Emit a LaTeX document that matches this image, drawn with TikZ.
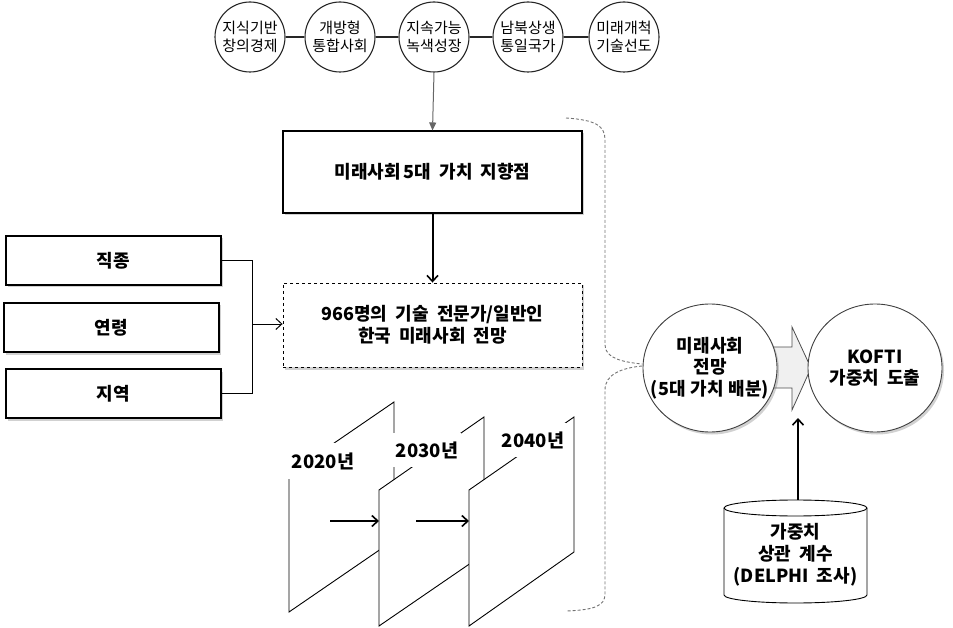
\documentclass[tikz,border=0pt]{standalone}
\usepackage{fontspec}
\setmainfont{Noto Sans CJK KR}[WordSpace=2]
\usetikzlibrary{arrows.meta,shadows,calc,shapes.geometric}
\begin{document}
\begin{tikzpicture}[x=1pt,y=-1pt,
  val/.style={circle,draw=black!85,line width=1.1pt,fill=white,minimum size=70pt,inner sep=0pt,align=center,
    font=\fontsize{15}{18}\selectfont},
  shad/.style={drop shadow={shadow xshift=2pt,shadow yshift=-2.5pt,opacity=0.3,fill=black!60}},
  bx/.style={draw=black,fill=white,line width=1.1pt,shad,align=center,inner sep=0pt,
    font=\bfseries\fontsize{18}{22}\selectfont},
  oval/.style={ellipse,draw=black!75,fill=white,line width=0.9pt,shad,inner sep=0pt,
    minimum width=134pt,minimum height=128pt},
  ovaltext/.style={align=center,inner sep=0pt,font=\bfseries\fontsize{18}{21.5}\selectfont},
  yr/.style={fill=white,inner sep=0pt,font=\bfseries\fontsize{18.5}{20}\selectfont},
  panel/.style={draw=black,fill=white,line width=0.9pt},
  arr/.style={-{Straight Barb[length=6pt,width=11pt,line width=1.6pt]},line width=2pt},
  thinarr/.style={-{Straight Barb[length=6pt,width=11pt,line width=1pt]},line width=1pt},
  brace/.style={draw=black!55,dashed,dash pattern=on 3pt off 2pt,line width=0.9pt},
]
\useasboundingbox (0,0) rectangle (953,628);

% top value circles
\node[val] (c1) at (250,37) {지식기반\\창의경제};
\node[val] (c2) at (340,37) {개방형\\통합사회};
\node[val] (c3) at (434,37) {지속가능\\녹색성장};
\node[val] (c4) at (528,37) {남북상생\\통일국가};
\node[val] (c5) at (624,37) {미래개척\\기술선도};
\foreach \a/\b in {c1/c2,c2/c3,c3/c4,c4/c5}
  \draw[line width=2.2pt,black!85] (\a) -- (\b);

% main boxes
\node[bx,minimum width=299pt,minimum height=82pt] (goal) at (432.5,172) {미래사회\hspace{3pt}5대 가치 지향점};
\node[bx,dashed,line width=0.9pt,minimum width=299pt,minimum height=84pt] (survey) at (432.5,325)
  {966명의 기술 전문가/일반인\\한국 미래사회 전망};
\draw[black!60,line width=1pt,-{Triangle[length=8pt,width=7pt]}] (c3.south) -- (goal.north);
\draw[arr] (goal.south) -- (survey.north);

% left boxes
\node[bx,minimum width=215pt,minimum height=49pt] (job) at (113.5,260.5) {직종};
\node[bx,minimum width=215pt,minimum height=49pt] (age) at (111.5,327.5) {연령};
\node[bx,minimum width=215pt,minimum height=49pt] (region) at (113.5,393.5) {지역};
\coordinate (join) at (252,324);
\draw[line width=1pt] (job.east) -| (join);
\draw[line width=1pt] (region.east) -| (join);
\draw[thinarr] (join) -- (join -| survey.west);

% time panels
\draw[panel] (289,474) -- (394,402) -- (394,540) -- (289,612) -- cycle;
\node[yr,minimum width=74pt,minimum height=36pt] (y1) at (323,461) {2020년};
\draw[panel] (379,490) -- (484,417) -- (484,554) -- (379,626) -- cycle;
\node[yr,minimum width=68pt,minimum height=34pt] (y2) at (427,450) {2030년};
\draw[panel] (469,490) -- (574,417) -- (574,552) -- (469,626) -- cycle;
\node[yr,minimum width=66pt,minimum height=34pt] (y3) at (533,440) {2040년};
\coordinate (a1s) at (330,521); \coordinate (a1e) at (379,521);
\coordinate (a2s) at (416,521); \coordinate (a2e) at (469,521);
\draw[arr] (a1s) -- (a1e);
\draw[arr] (a2s) -- (a2e);

% dashed brace
\draw[brace] (566,118) .. controls (596,120) and (605,126) .. (605,140)
  -- (605,345) .. controls (605,358) and (622,362) .. (642,364);
\draw[brace] (642,366) .. controls (622,368) and (605,374) .. (605,390)
  -- (605,594) .. controls (605,606) and (594,610) .. (566,611);

% block arrow and right circles
\filldraw[fill=black!6,draw=black!70,line width=0.8pt]
  (772,347) -- (792,347) -- (792,327) -- (811,368) -- (792,410) -- (792,388) -- (772,388) -- cycle;
\node[oval] (fut) at (710,368) {};
\node[ovaltext] (futtxt) at (fut.center) {미래사회\\전망\\(5대\hspace{5pt}가치\hspace{5pt}배분)};
\node[oval] (kofti) at (875,368) {};
\node[ovaltext] (koftitxt) at (kofti.center) {KOFTI\\가중치 도출};

% cylinder
\filldraw[fill=white,draw=black,line width=0.9pt] (724,508) -- (724,595)
  arc[start angle=180,end angle=360,x radius=71.5pt,y radius=8pt] -- (867,508)
  arc[start angle=0,end angle=180,x radius=71.5pt,y radius=8pt] -- cycle;
\draw[line width=0.9pt] (724,508) arc[start angle=180,end angle=360,x radius=71.5pt,y radius=8pt];
\node[align=center,inner sep=0pt,minimum width=143pt,minimum height=110pt,
  font=\bfseries\fontsize{18}{22}\selectfont] (cyl) at (795.5,555)
  {가중치\\상관 계수\\(DELPHI 조사)};
\coordinate (kin) at (798,418);
\draw[arr] (cyl.north -| kin) -- (kin);
\end{tikzpicture}
\end{document}
